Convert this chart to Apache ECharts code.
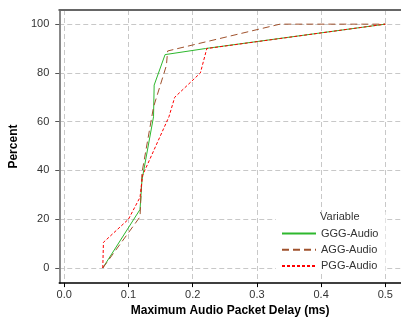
<!DOCTYPE html>
<html>
<head>
<meta charset="utf-8">
<script src="https://cdn.jsdelivr.net/npm/echarts@6/dist/echarts.min.js"></script>
<style>html,body{margin:0;padding:0;background:#fff}#c{width:401px;height:322px}</style>
</head>
<body>
<div id="c"></div>
<script>
const seriesNames = ['GGG-Audio', 'AGG-Audio', 'PGG-Audio'];
const gggX = [0.06, 0.118, 0.121, 0.139, 0.140, 0.157, 0.22, 0.5];
const gggY = [0, 24, 36, 62, 75, 87.5, 90, 100];
const aggX = [0.06, 0.118, 0.121, 0.139, 0.159, 0.161, 0.336, 0.5];
const aggY = [0, 21, 39, 66, 83, 89, 100, 100];
const pggX = [0.06, 0.061, 0.1, 0.118, 0.122, 0.163, 0.172, 0.212, 0.222, 0.5];
const pggY = [0, 10.5, 20, 29, 38, 62, 70, 80, 90, 100];
const xTicks = [0, 0.1, 0.2, 0.3, 0.4, 0.5];
const yTicks = [0, 20, 40, 60, 80, 100];
const xTitle = 'Maximum Audio Packet Delay (ms)';
const yTitle = 'Percent';
const legendTitle = 'Variable';

const pairs = (xs, ys) => xs.map((x, i) => [x, ys[i]]);
const font = 'Liberation Sans, Arial, sans-serif';
const grid = {show: true, lineStyle: {color: '#c8c8c8', width: 1, type: [5, 3]}};

const chart = echarts.init(document.getElementById('c'), null, {renderer: 'canvas'});
chart.setOption({
  animation: false,
  backgroundColor: '#fff',
  grid: {left: 59, right: 0, top: 10, bottom: 36, containLabel: false},
  xAxis: [{
    type: 'value', min: -0.0078, max: 0.5244,
    name: xTitle, nameLocation: 'middle', nameGap: 20,
    nameTextStyle: {fontFamily: font, fontSize: 12, fontWeight: 'bold', color: '#000'},
    axisLine: {show: true, onZero: false, lineStyle: {color: '#000', width: 1.5}},
    axisTick: {show: true, length: 4, customValues: xTicks, lineStyle: {color: '#000'}},
    axisLabel: {customValues: xTicks, margin: 6, fontFamily: font, fontSize: 11, color: '#333',
      formatter: v => v.toFixed(1)},
    splitLine: Object.assign({customValues: xTicks}, grid)
  }, {
    type: 'value', position: 'top', min: -0.0078, max: 0.5244,
    axisLine: {show: true, onZero: false, lineStyle: {color: '#666', width: 2}},
    axisTick: {show: false}, axisLabel: {show: false}, splitLine: {show: false}
  }],
  yAxis: {
    type: 'value', min: -6.2, max: 105.8,
    name: yTitle, nameLocation: 'middle', nameGap: 33,
    nameTextStyle: {fontFamily: font, fontSize: 12, fontWeight: 'bold', color: '#000'},
    axisLine: {show: true, onZero: false, lineStyle: {color: '#888', width: 2}},
    axisTick: {show: true, length: 4, customValues: yTicks, lineStyle: {color: '#555'}},
    axisLabel: {customValues: yTicks, margin: 10, fontFamily: font, fontSize: 11, color: '#333'},
    splitLine: Object.assign({customValues: yTicks}, grid)
  },
  legend: {
    data: seriesNames, orient: 'vertical', left: 276, top: 212,
    padding: [16, 7, 1, 5], itemWidth: 34, itemHeight: 14, itemGap: 5,
    icon: 'inherit', itemStyle: {opacity: 0, borderWidth: 0},
    backgroundColor: '#fff', selectedMode: false,
    textStyle: {fontFamily: font, fontSize: 11, color: '#333'}
  },
  graphic: [{
    type: 'text', left: 320, top: 211, z: 100,
    style: {text: legendTitle, font: '11px ' + font, fill: '#333'}
  }],
  series: [
    {name: seriesNames[0], type: 'line', data: pairs(gggX, gggY), symbol: 'none',
      lineStyle: {color: '#2eb82e', width: 1, type: 'solid'}, itemStyle: {color: '#2eb82e'}},
    {name: seriesNames[1], type: 'line', data: pairs(aggX, aggY), symbol: 'none',
      lineStyle: {color: '#a0522d', width: 1, type: [7, 4]}, itemStyle: {color: '#a0522d'}},
    {name: seriesNames[2], type: 'line', data: pairs(pggX, pggY), symbol: 'none',
      lineStyle: {color: '#ff0000', width: 1, type: [3, 2]}, itemStyle: {color: '#ff0000'}}
  ]
});
</script>
</body>
</html>
